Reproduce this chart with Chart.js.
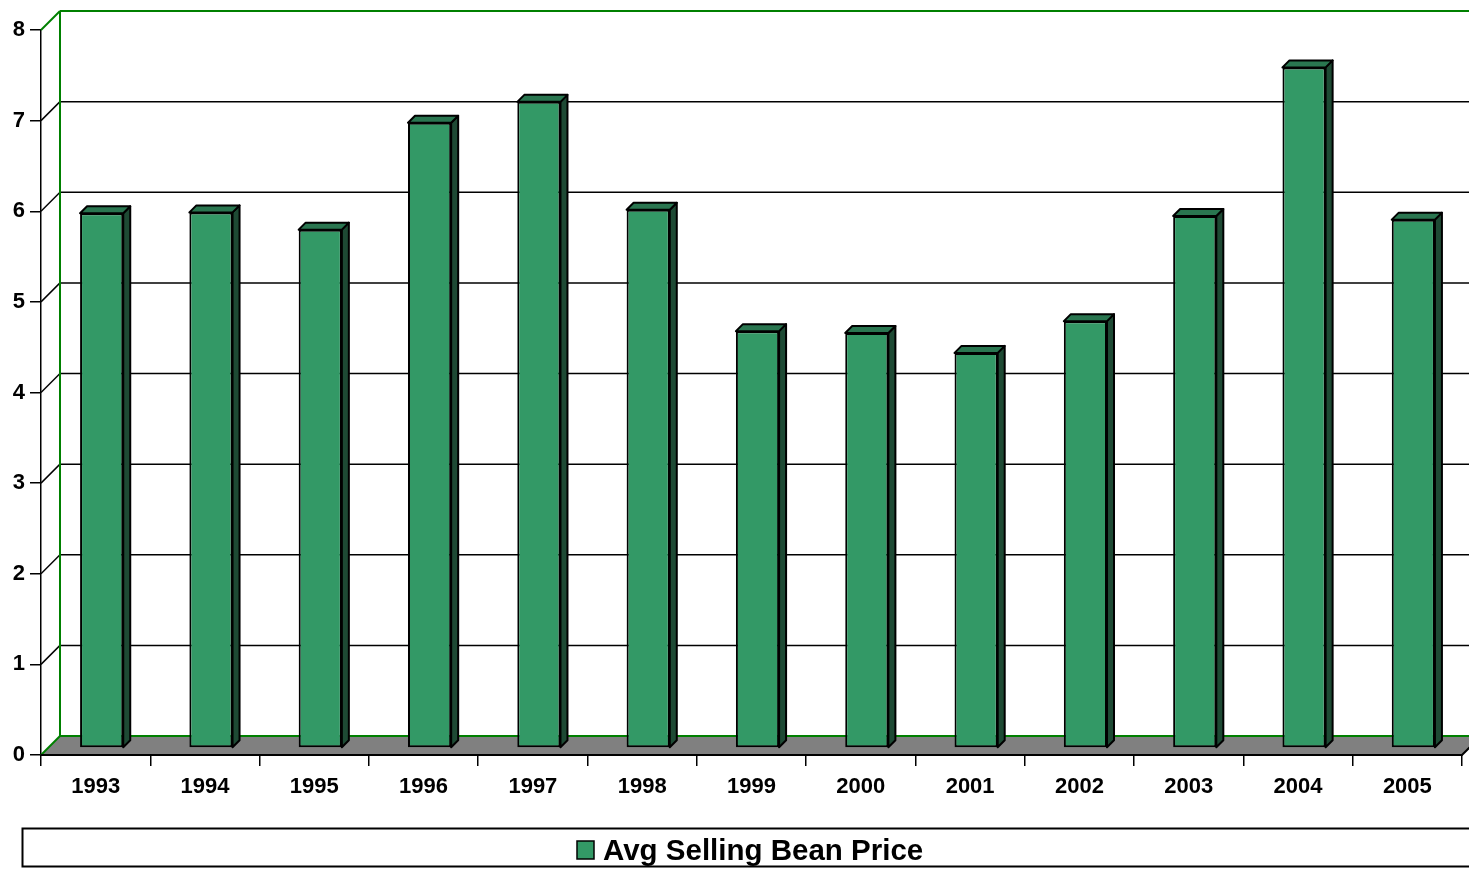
<!DOCTYPE html>
<html>
<head>
<meta charset="utf-8">
<script src="https://cdn.jsdelivr.net/npm/chart.js@4"></script>
<style>
  html, body { margin: 0; padding: 0; background: #fff; }
  #wrap { width: 1469px; height: 869px; position: relative; }
</style>
</head>
<body>
<div id="wrap"><canvas id="c"></canvas></div>
<script>
const categories = ['1993','1994','1995','1996','1997','1998','1999','2000','2001','2002','2003','2004','2005'];
const seriesLabel = 'Avg Selling Bean Price';
const prices = [5.90, 5.91, 5.72, 6.90, 7.13, 5.94, 4.60, 4.58, 4.36, 4.71, 5.87, 7.51, 5.83];
const yMin = 0, yMax = 8, yStep = 1;

const FRONT = '#339966', TOP = '#2A7650', SIDE = '#1E4A34';
const WALL_GREEN = '#008000';
const FONT = "'Liberation Sans', Arial, sans-serif";
const DEPTH = 19;      // floor / wall depth
const SHIFT_X = 6, SHIFT_Y = 7;  // bar front plane offset
const BAR_D = 7;       // bar depth

const threeD = {
  id: 'threeD',
  beforeDatasetsDraw(chart) {
    const { ctx, chartArea: a, scales: { x, y } } = chart;
    const W = chart.width;
    ctx.save();
    const y0 = y.getPixelForValue(0);
    ctx.beginPath();
    ctx.moveTo(a.left, y0);
    ctx.lineTo(a.right, y0);
    ctx.lineTo(a.right + DEPTH, y0 - DEPTH);
    ctx.lineTo(a.left + DEPTH, y0 - DEPTH);
    ctx.closePath();
    ctx.fillStyle = '#808080';
    ctx.fill();
    for (let v = yMin + yStep; v <= yMax; v += yStep) {
      const yf = y.getPixelForValue(v);
      const isTop = v === yMax;
      ctx.strokeStyle = isTop ? WALL_GREEN : '#000';
      ctx.lineWidth = isTop ? 2 : 1.5;
      ctx.beginPath();
      ctx.moveTo(a.left + DEPTH, yf - DEPTH);
      ctx.lineTo(W, yf - DEPTH);
      ctx.stroke();
      ctx.beginPath();
      ctx.moveTo(a.left, yf);
      ctx.lineTo(a.left + DEPTH, yf - DEPTH);
      ctx.stroke();
    }
    ctx.strokeStyle = WALL_GREEN;
    ctx.lineWidth = 2;
    ctx.beginPath();
    ctx.moveTo(a.left + DEPTH, y.getPixelForValue(yMax) - DEPTH);
    ctx.lineTo(a.left + DEPTH, y0 - DEPTH);
    ctx.lineTo(W, y0 - DEPTH);
    ctx.stroke();
    ctx.beginPath();
    ctx.moveTo(a.left, y0);
    ctx.lineTo(a.left + DEPTH, y0 - DEPTH);
    ctx.stroke();
    ctx.strokeStyle = '#000';
    ctx.lineWidth = 2;
    ctx.beginPath();
    ctx.moveTo(a.left, y0);
    ctx.lineTo(a.right, y0);
    ctx.lineTo(a.right + DEPTH, y0 - DEPTH);
    ctx.stroke();
    ctx.restore();
    ctx.save();
    ctx.translate(SHIFT_X, -SHIFT_Y);
  },
  afterDatasetsDraw(chart) {
    const { ctx } = chart;
    ctx.restore();
    const meta = chart.getDatasetMeta(0);
    ctx.save();
    ctx.lineWidth = 2;
    ctx.strokeStyle = '#000';
    ctx.lineJoin = 'round';
    meta.data.forEach(el => {
      const p = el.getProps(['x', 'y', 'base', 'width'], true);
      const l = p.x - p.width / 2 + SHIFT_X;
      const r = p.x + p.width / 2 + SHIFT_X;
      const t = p.y - SHIFT_Y;
      const b = p.base - SHIFT_Y;
      ctx.beginPath();
      ctx.moveTo(r, t); ctx.lineTo(r + BAR_D, t - BAR_D);
      ctx.lineTo(r + BAR_D, b - BAR_D); ctx.lineTo(r, b); ctx.closePath();
      ctx.fillStyle = SIDE; ctx.fill(); ctx.stroke();
      ctx.beginPath();
      ctx.moveTo(l, t); ctx.lineTo(l + BAR_D, t - BAR_D);
      ctx.lineTo(r + BAR_D, t - BAR_D); ctx.lineTo(r, t); ctx.closePath();
      ctx.fillStyle = TOP; ctx.fill(); ctx.stroke();
    });
    ctx.restore();
  },
  afterDraw(chart) {
    const { ctx } = chart;
    ctx.save();
    ctx.strokeStyle = '#000';
    ctx.lineWidth = 2;
    ctx.strokeRect(22.5, 828.5, chart.width + 10, 38);
    ctx.fillStyle = FRONT;
    ctx.fillRect(577, 841, 17, 18);
    ctx.lineWidth = 1.5;
    ctx.strokeRect(577, 841, 17, 18);
    ctx.fillStyle = '#000';
    ctx.font = 'bold 29.5px ' + FONT;
    ctx.textBaseline = 'alphabetic';
    ctx.textAlign = 'left';
    ctx.fillText(chart.data.datasets[0].label, 603, 860);
    ctx.restore();
  }
};

new Chart(document.getElementById('c'), {
  type: 'bar',
  data: {
    labels: categories,
    datasets: [{
      label: seriesLabel,
      data: prices,
      backgroundColor: FRONT,
      borderColor: '#000',
      borderWidth: 2,
      borderSkipped: false,
      categoryPercentage: 1.0,
      barPercentage: 0.395,
      clip: false
    }]
  },
  options: {
    responsive: true,
    maintainAspectRatio: false,
    animation: false,
    layout: { padding: { top: 30, right: 7, left: 0, bottom: 0 } },
    plugins: { legend: { display: false }, tooltip: { enabled: false } },
    scales: {
      x: {
        offset: true,
        afterFit(s) { s.height = 114; },
        grid: { offset: true, drawOnChartArea: false, tickLength: 11, color: '#000', lineWidth: 1.5 },
        border: { display: true, color: '#000', width: 2 },
        ticks: { color: '#000', font: { family: FONT, size: 22, weight: 'bold' }, padding: 8, maxRotation: 0 }
      },
      y: {
        min: yMin, max: yMax,
        afterFit(s) { s.width = 41; },
        grid: { drawOnChartArea: false, tickLength: 11, color: '#000', lineWidth: 1.5 },
        border: { display: true, color: '#000', width: 1.5 },
        ticks: { stepSize: yStep, color: '#000', font: { family: FONT, size: 22, weight: 'bold' }, padding: 5 }
      }
    }
  },
  plugins: [threeD]
});
</script>
</body>
</html>
